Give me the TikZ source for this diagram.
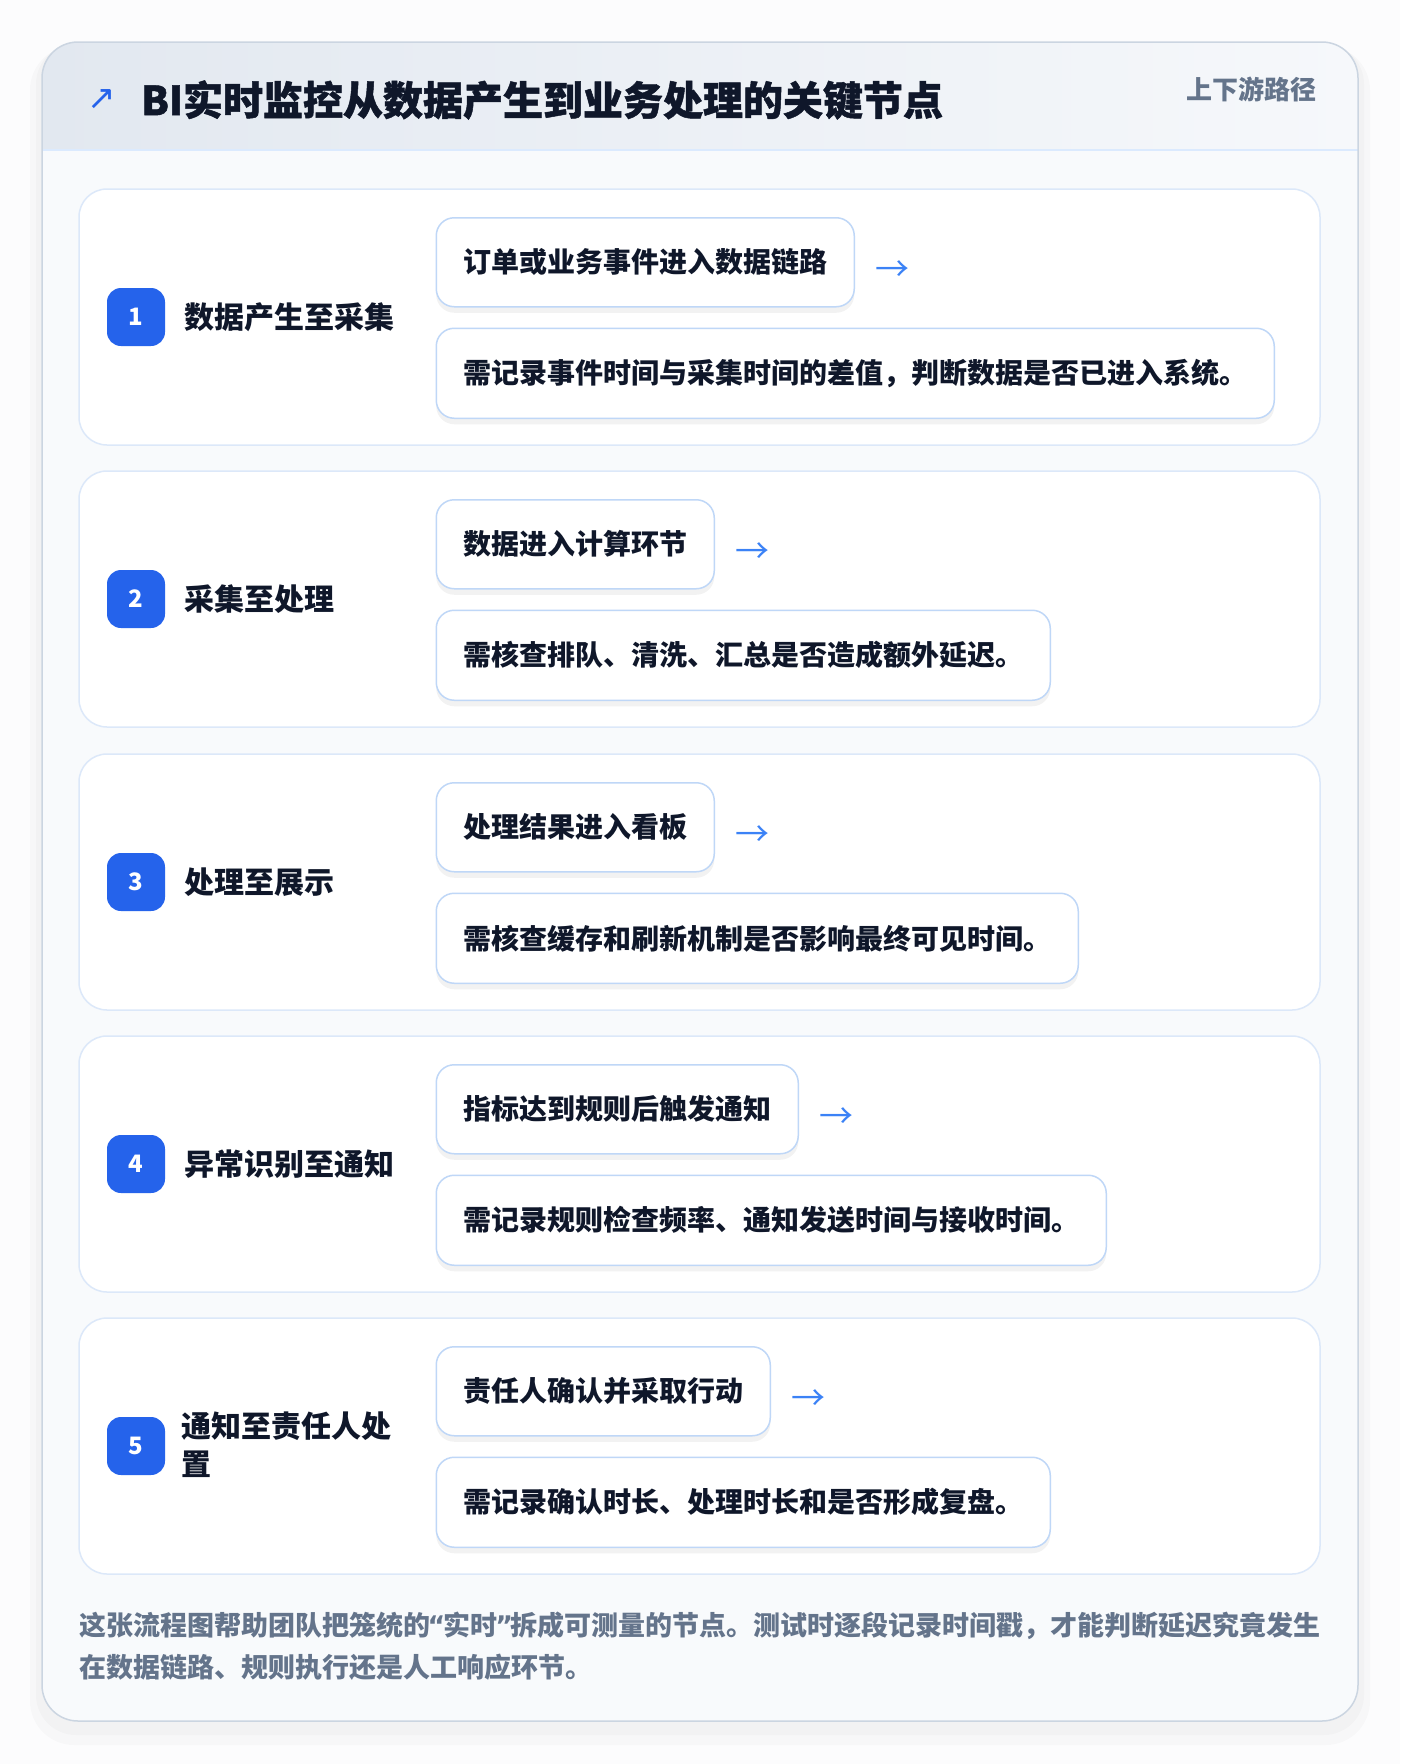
\documentclass[tikz,border=0pt]{standalone}
\usepackage{fontspec}
\setmainfont{Noto Sans CJK SC}
\newfontfamily\symfont{DejaVu Sans}
\usetikzlibrary{positioning,shadows}

\definecolor{pagebg}{HTML}{FCFCFD}
\definecolor{panelbg}{HTML}{F8FAFC}
\definecolor{panelline}{HTML}{CBD5E1}
\definecolor{headleft}{HTML}{E2E8F0}
\definecolor{headright}{HTML}{F6F8FB}
\definecolor{headline}{HTML}{DBEAFE}
\definecolor{cardline}{HTML}{DCE8F9}
\definecolor{boxline}{HTML}{BFD7F7}
\definecolor{badgeblue}{HTML}{2563EB}
\definecolor{arrowblue}{HTML}{3B82F6}
\definecolor{ink}{HTML}{0F172A}
\definecolor{subgray}{HTML}{64748B}

\newcommand{\openq}{\kern-2.5pt{\symfont “}\kern-2pt}
\newcommand{\closeq}{\kern-2pt{\symfont ”}\kern-2.5pt}

\begin{document}
\begin{tikzpicture}[
    x=1pt, y=-1pt,
    stage card/.style={draw=cardline, line width=1.5pt, fill=white, rounded corners=28pt},
    badge/.style={fill=badgeblue, text=white, rounded corners=14pt, minimum size=58pt,
        inner sep=0pt, font=\fontsize{24}{26}\selectfont\bfseries},
    stage label/.style={anchor=west, text=ink, align=left, inner sep=0pt,
        font=\fontsize{30}{38}\selectfont\bfseries},
    event box/.style={anchor=north west, draw=boxline, line width=1.5pt, fill=white,
        rounded corners=18pt, inner xsep=27pt, minimum height=89pt, text=ink,
        font=\fontsize{28}{34}\selectfont\bfseries,
        drop shadow={shadow xshift=0pt, shadow yshift=-6pt, opacity=0.05, fill=black}},
    next arrow/.style={text=arrowblue, inner sep=0pt, font=\fontsize{34}{36}\selectfont}
]
    \useasboundingbox[fill=pagebg] (0,0) rectangle (1400,1764);

    % outer panel with soft shadow
    \fill[black, opacity=0.02, rounded corners=44pt] (30,46) rectangle (1370,1745);
    \fill[black, opacity=0.02, rounded corners=40pt] (36,44) rectangle (1364,1735);
    \fill[panelbg, rounded corners=36pt] (42,42) rectangle (1358,1721);
    \begin{scope}
        \clip[rounded corners=36pt] (42,42) rectangle (1358,1721);
        \shade[left color=headleft, right color=headright] (42,42) rectangle (1358,150);
        \draw[headline, line width=2pt] (42,150) -- (1358,150);
    \end{scope}
    \draw[panelline, line width=1.5pt, rounded corners=36pt] (42,42) rectangle (1358,1721);

    % header
    \node[text=badgeblue, inner sep=0pt, font=\symfont\fontsize{34}{36}\selectfont] (icon) at (102,100) {↗};
    \node[anchor=west, text=ink, inner sep=0pt, font=\fontsize{40}{46}\selectfont\bfseries\addfontfeature{FakeBold=1.2}] (title) at (141,100)
        {BI实时监控从数据产生到业务处理的关键节点};
    \node[anchor=east, text=subgray, inner sep=0pt, font=\fontsize{26}{30}\selectfont\bfseries] (tag) at (1317,89)
        {上下游路径};

    % stage 1
    \draw[stage card] (79,189) rectangle (1320,445);
    \node[badge] (n1) at (136,317) {1};
    \node[stage label] (l1) at (184,317) {数据产生至采集};
    \node[event box] (e1) at (435.5,217) {订单或业务事件进入数据链路};
    \node[next arrow, right=20pt of e1, yshift=-9pt] (a1) {→};
    \node[event box, minimum height=90pt] (c1) at (435.5,327.5) {需记录事件时间与采集时间的差值，判断数据是否已进入系统。};

    % stage 2
    \draw[stage card] (79,471) rectangle (1320,727);
    \node[badge] (n2) at (136,599) {2};
    \node[stage label] (l2) at (184,599) {采集至处理};
    \node[event box] (e2) at (435.5,499) {数据进入计算环节};
    \node[next arrow, right=20pt of e2, yshift=-9pt] (a2) {→};
    \node[event box, minimum height=90pt] (c2) at (435.5,609.5) {需核查排队、清洗、汇总是否造成额外延迟。};

    % stage 3
    \draw[stage card] (79,754) rectangle (1320,1010);
    \node[badge] (n3) at (136,882) {3};
    \node[stage label] (l3) at (184,882) {处理至展示};
    \node[event box] (e3) at (435.5,782) {处理结果进入看板};
    \node[next arrow, right=20pt of e3, yshift=-9pt] (a3) {→};
    \node[event box, minimum height=90pt] (c3) at (435.5,892.5) {需核查缓存和刷新机制是否影响最终可见时间。};

    % stage 4
    \draw[stage card] (79,1036) rectangle (1320,1292);
    \node[badge] (n4) at (136,1164) {4};
    \node[stage label] (l4) at (184,1164) {异常识别至通知};
    \node[event box] (e4) at (435.5,1064) {指标达到规则后触发通知};
    \node[next arrow, right=20pt of e4, yshift=-9pt] (a4) {→};
    \node[event box, minimum height=90pt] (c4) at (435.5,1174.5) {需记录规则检查频率、通知发送时间与接收时间。};

    % stage 5
    \draw[stage card] (79,1318) rectangle (1320,1574);
    \node[badge] (n5) at (136,1446) {5};
    \node[stage label] (l5) at (181,1445) {通知至责任人处\\置};
    \node[event box] (e5) at (435.5,1346) {责任人确认并采取行动};
    \node[next arrow, right=20pt of e5, yshift=-9pt] (a5) {→};
    \node[event box, minimum height=90pt] (c5) at (435.5,1456.5) {需记录确认时长、处理时长和是否形成复盘。};

    % footnote
    \node[anchor=west, text=subgray, align=left, inner sep=0pt, font=\fontsize{27}{42}\selectfont\bfseries] (note) at (79,1646)
        {这张流程图帮助团队把笼统的\openq 实时\closeq 拆成可测量的节点。测试时逐段记录时间戳，才能判断延迟究竟发生\\
         在数据链路、规则执行还是人工响应环节。};
\end{tikzpicture}
\end{document}
